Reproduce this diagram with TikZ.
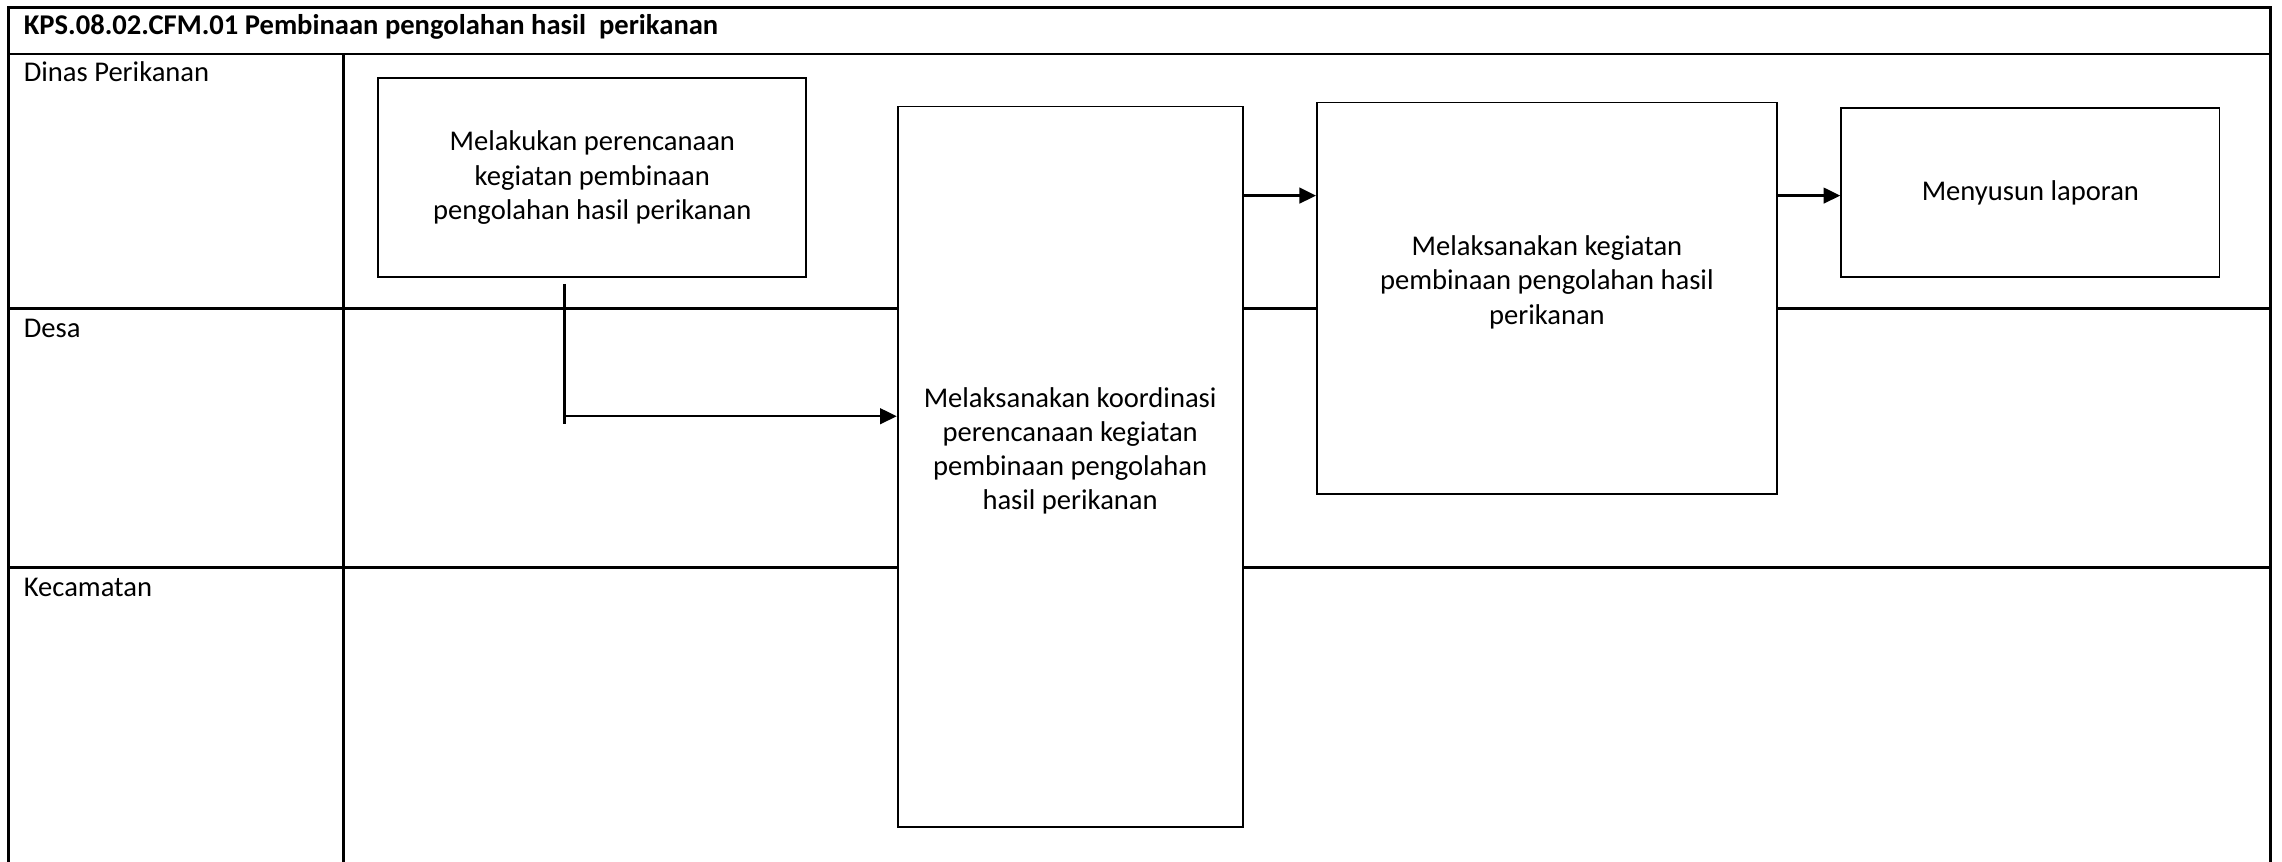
\documentclass[tikz,border=0pt]{standalone}
\usepackage{fontspec}
\setmainfont{Carlito}
\usetikzlibrary{arrows.meta, positioning}

\begin{document}
\begin{tikzpicture}[
    x=0.56pt, y=-0.56pt,
    font=\fontsize{11}{13.2}\selectfont,
    lane/.style={draw=black, line width=0.95pt},
    lanelabel/.style={anchor=base west, inner sep=0pt},
    proc/.style={rectangle, draw=black, line width=0.7pt, fill=white, align=center, inner sep=0pt},
    lifted/.style={text depth=14pt},
    arrow/.style={-{Triangle[length=6.4pt, width=6pt]}, line width=0.95pt},
]
\useasboundingbox (0,0) rectangle (1568,592);

% swimlane frame
\draw[lane] (6,592) -- (6,5) -- (1560,5) -- (1560,592);
\draw[lane] (6,37) -- (1560,37);
\draw[lane] (236,37) -- (236,592);
\draw[lane] (6,212) -- (1560,212);
\draw[lane] (6,390) -- (1560,390);

\node[lanelabel] (title) at (16,24) {\textbf{KPS.08.02.CFM.01 Pembinaan pengolahan hasil\ \ perikanan}};
\node[lanelabel] (dinas) at (16,56) {Dinas Perikanan};
\node[lanelabel] (desa) at (16,232) {Desa};
\node[lanelabel] (kec) at (16,410) {Kecamatan};

% process boxes
\node[proc, minimum width=294*0.56pt, minimum height=137*0.56pt] (plan) at (407,122) {Melakukan perencanaan\\kegiatan pembinaan\\pengolahan hasil perikanan};
\node[proc, lifted, minimum width=237*0.56pt, minimum height=495*0.56pt] (coord) at (735.3,320.7) {Melaksanakan koordinasi\\perencanaan kegiatan\\pembinaan pengolahan\\hasil perikanan};
\node[proc, lifted, minimum width=316*0.56pt, minimum height=269*0.56pt] (exec) at (1062.9,204.9) {Melaksanakan kegiatan\\pembinaan pengolahan hasil\\perikanan};
\node[proc, minimum width=260*0.56pt, minimum height=116*0.56pt] (report) at (1395.1,132.2) {Menyusun laporan};

% connectors
\coordinate (split) at (388,286);
\coordinate (flowrow) at (0,134.4);
\draw[line width=1.1pt] ([yshift=-2.2pt]plan.south -| split) -- ([yshift=-2.8pt]split);
\draw[arrow] (split) -- (split -| coord.west);
\draw[arrow] (coord.east |- flowrow) -- (exec.west |- flowrow);
\draw[arrow] (exec.east |- flowrow) -- (report.west |- flowrow);

\end{tikzpicture}
\end{document}
